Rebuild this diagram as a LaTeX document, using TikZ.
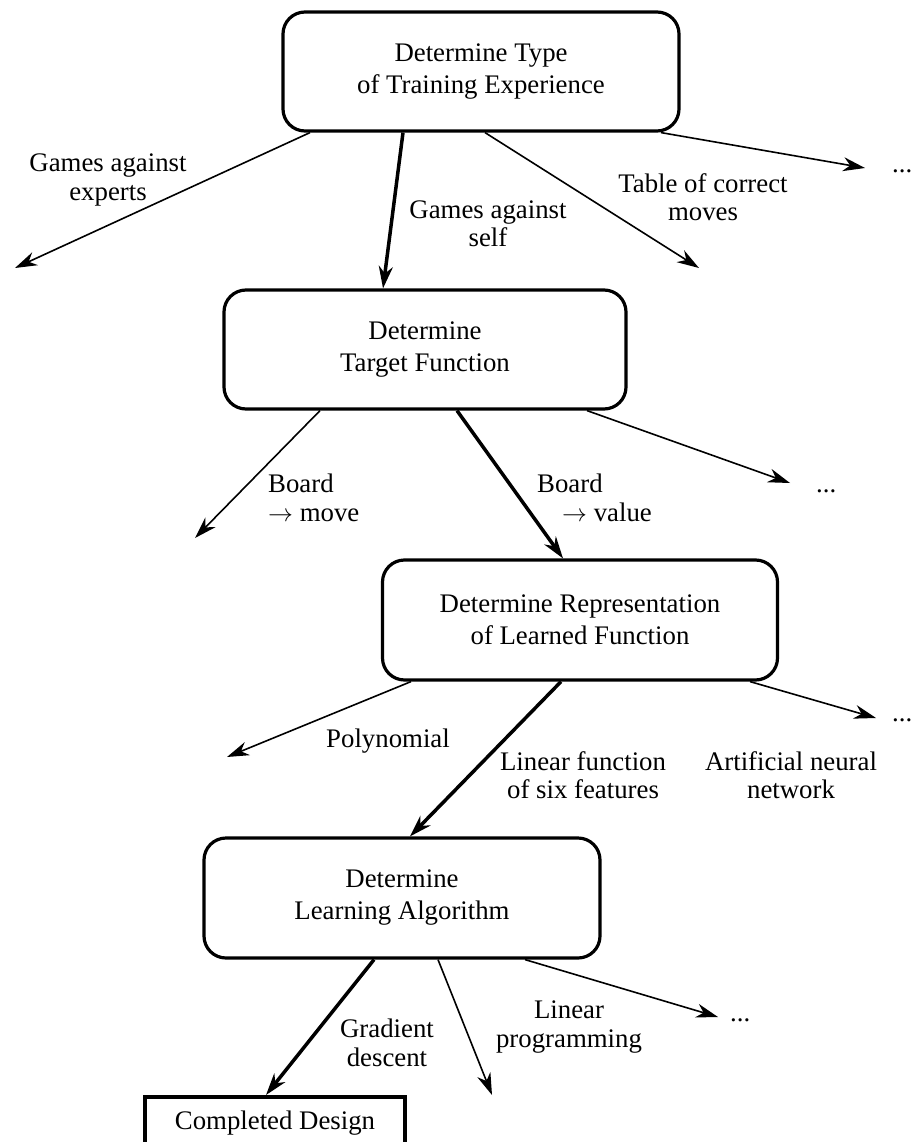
\documentclass[tikz,border=0pt]{standalone}
\usepackage{fontspec}
\setmainfont{Liberation Serif}
\usetikzlibrary{arrows.meta}
\begin{document}
\begin{tikzpicture}[x=1pt,y=-1pt,
  stepbox/.style={draw, line width=3.2pt, rounded corners=22pt, minimum width=396pt,
    minimum height=119pt, align=center, inner sep=0pt, font=\fontsize{26.8}{32}\selectfont},
  endbox/.style={draw, line width=4pt, minimum width=260pt, minimum height=53pt,
    inner sep=0pt, font=\fontsize{26.8}{32}\selectfont},
  lbl/.style={align=center, inner sep=0pt, font=\fontsize{26.8}{28.5}\selectfont},
  dots/.style={inner sep=0pt, anchor=base west, font=\fontsize{26.8}{32}\selectfont},
  optarrow/.style={line width=1.6pt, -{Stealth[length=22pt,width=14pt,inset=7pt]}},
  chosenarrow/.style={line width=3.5pt, -{Stealth[length=22pt,width=14pt,inset=7pt]}}
]
\useasboundingbox (0,0) rectangle (914,1142);

% boxes
\node[stepbox] (b1) at (481,71.5) {Determine Type\\of Training Experience};
\node[stepbox, minimum width=402pt] (b2) at (425,349.5) {Determine\\Target Function};
\node[stepbox, minimum width=395pt, minimum height=120pt] (b3) at (580,620) {Determine Representation\\of Learned Function};
\node[stepbox, minimum height=120pt] (b4) at (402,898) {Determine\\Learning Algorithm};
\node[endbox] (b5) at (275,1123.5) {Completed Design};

% free ends
\coordinate (e1a) at (15,268);
\coordinate (e1c) at (699,268);
\coordinate (e1d) at (865,168);
\coordinate (e2a) at (195,538);
\coordinate (e2c) at (790,483);
\coordinate (e3a) at (227,757);
\coordinate (e3c) at (876,718);
\coordinate (e4b) at (492,1095);
\coordinate (e4c) at (718,1017);

% level 1
\draw[optarrow] ([xshift=-171pt]b1.south) -- (e1a);
\draw[chosenarrow] ([xshift=-78pt]b1.south) -- ([xshift=-42pt]b2.north);
\draw[optarrow] ([xshift=4pt]b1.south) -- (e1c);
\draw[optarrow] ([xshift=180pt]b1.south) -- (e1d);
\node[lbl] (l1a) at (108,180) {Games against\\experts};
\node[lbl] (l1b) at (488,224) {Games against\\self};
\node[lbl] (l1c) at (703,197) {Table of correct\\moves};
\node[dots] (d1) at (892,172) {...};

% level 2
\draw[optarrow] ([xshift=-105pt]b2.south) -- (e2a);
\draw[chosenarrow] ([xshift=32pt]b2.south) -- ([xshift=-17pt]b3.north);
\draw[optarrow] ([xshift=162pt]b2.south) -- (e2c);
\node[lbl, align=left, anchor=west] (l2a) at (268,498) {Board\\$\rightarrow$ move};
\node[lbl, align=left, anchor=west] (l2b) at (537,498) {Board\\\hspace*{25pt}$\rightarrow$ value};
\node[dots] (d2) at (816,492) {...};

% level 3
\draw[optarrow] ([xshift=-169pt]b3.south) -- (e3a);
\draw[chosenarrow] ([xshift=-19pt]b3.south) -- ([xshift=8pt]b4.north);
\draw[optarrow] ([xshift=170pt]b3.south) -- (e3c);
\node[lbl] (l3a) at (388,741) {Polynomial};
\node[lbl] (l3b) at (583,775) {Linear function\\of six features};
\node[lbl] (l3c) at (791,775) {Artificial neural\\network};
\node[dots] (d3) at (892,721) {...};

% level 4
\draw[chosenarrow] ([xshift=-28pt]b4.south) -- ([xshift=-9pt]b5.north);
\draw[optarrow] ([xshift=36pt]b4.south) -- (e4b);
\draw[optarrow] ([xshift=123pt]b4.south) -- (e4c);
\node[lbl] (l4a) at (387,1043) {Gradient\\descent};
\node[lbl] (l4b) at (569,1027) {Linear\\programming};
\node[dots] (d4) at (730,1021) {...};
\end{tikzpicture}
\end{document}
